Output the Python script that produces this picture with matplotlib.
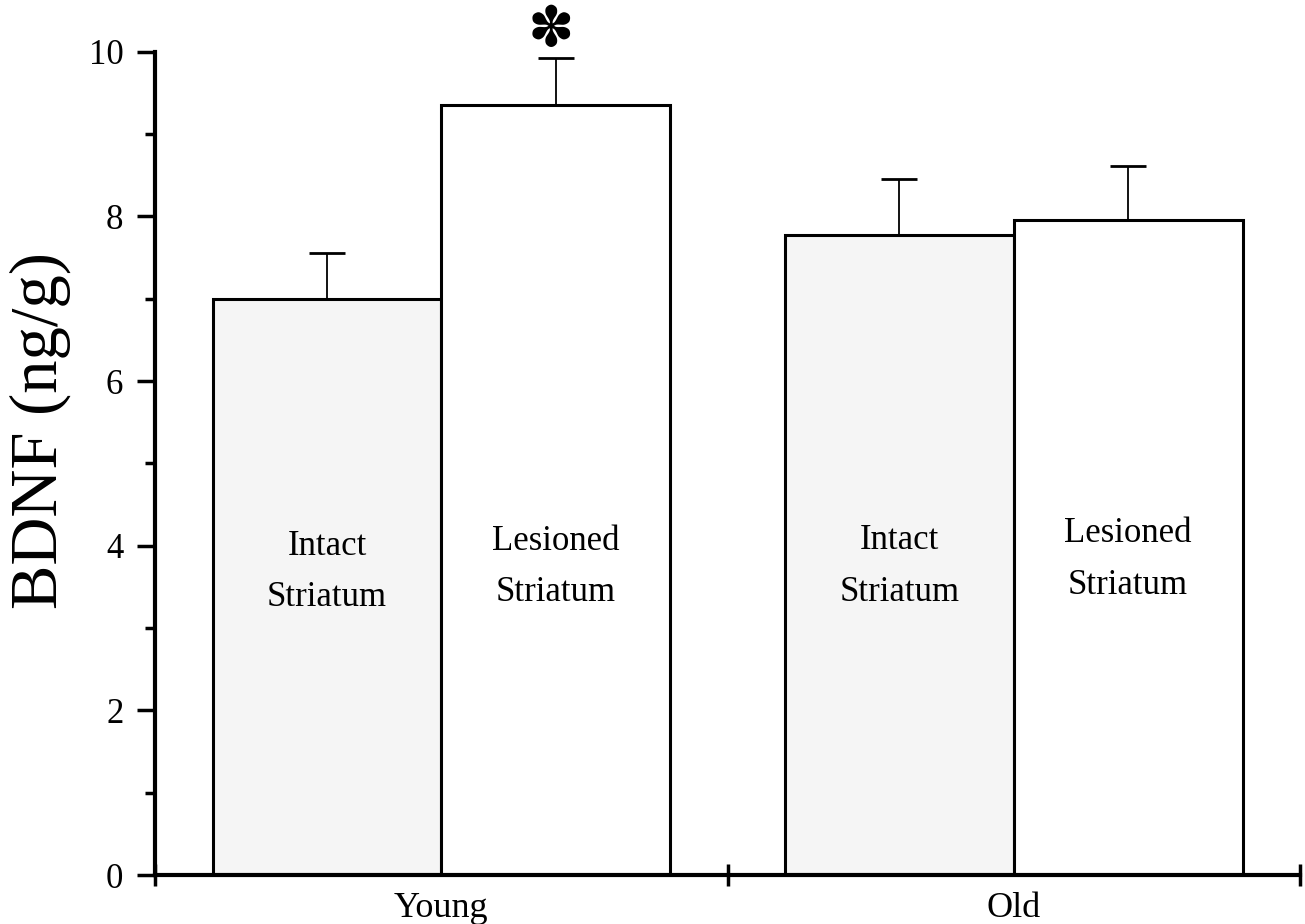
import numpy as np
import matplotlib
matplotlib.use("Agg")
import matplotlib.pyplot as plt
from matplotlib.ticker import MultipleLocator

# data
groups = ['Young', 'Old']
bar_labels = ['Intact\nStriatum', 'Lesioned\nStriatum', 'Intact\nStriatum', 'Lesioned\nStriatum']
bdnf = [7.0, 9.35, 7.78, 7.96]
sem = [0.55, 0.57, 0.68, 0.65]
label_y = [3.68, 3.74, 3.75, 3.83]
signif = [False, True, False, False]

plt.rcParams['font.family'] = ['Liberation Serif', 'DejaVu Serif']

fig = plt.figure(figsize=(13.05, 9.24), dpi=100)
ax = fig.add_axes([0.119, 0.053, 0.877, 0.891])

x = np.array([0.3, 0.7, 1.3, 1.7])
colors = ['#f5f5f5', 'white', '#f5f5f5', 'white']
ax.bar(x, bdnf, width=0.4, color=colors, edgecolor='black', linewidth=2.2, zorder=3)
ax.errorbar(x, bdnf, yerr=[np.zeros(len(sem)), sem], fmt='none', ecolor='black',
            elinewidth=1.3, capsize=13, capthick=2, zorder=2)

for xi, lab, ly in zip(x, bar_labels, label_y):
    ax.text(xi, ly, lab, ha='center', va='center', fontsize=25, linespacing=1.75, zorder=4)

for xi, b, s, sg in zip(x, bdnf, sem, signif):
    if sg:
        ax.text(xi - 0.008, b + s + 0.33, '\u273d', ha='center', va='center',
                fontsize=40, family='DejaVu Sans', zorder=4)

ax.set_xlim(0, 2)
ax.set_ylim(0, 10)
ax.set_xticks([0, 1, 2])
ax.set_xticklabels([])
ax.yaxis.set_major_locator(MultipleLocator(2))
ax.yaxis.set_minor_locator(MultipleLocator(1))
ax.tick_params(axis='x', direction='inout', length=16, width=2.5)
ax.tick_params(axis='y', which='major', direction='out', length=13, width=2.5,
               labelsize=25, pad=10)
ax.tick_params(axis='y', which='minor', direction='out', length=7, width=2.5)

for i, g in enumerate(groups):
    ax.annotate(g, xy=(i + 0.5, 0), xycoords=('data', 'axes fraction'),
                xytext=(0, -12), textcoords='offset points', ha='center', va='top',
                fontsize=26)

ax.set_ylabel('BDNF (ng/g)', fontsize=48)
ax.yaxis.set_label_coords(-0.074, 0.54)

for s in ['top', 'right']:
    ax.spines[s].set_visible(False)
for s in ['left', 'bottom']:
    ax.spines[s].set_linewidth(3)
ax.spines['bottom'].set_zorder(5)

fig.savefig('out.png', dpi=100)
